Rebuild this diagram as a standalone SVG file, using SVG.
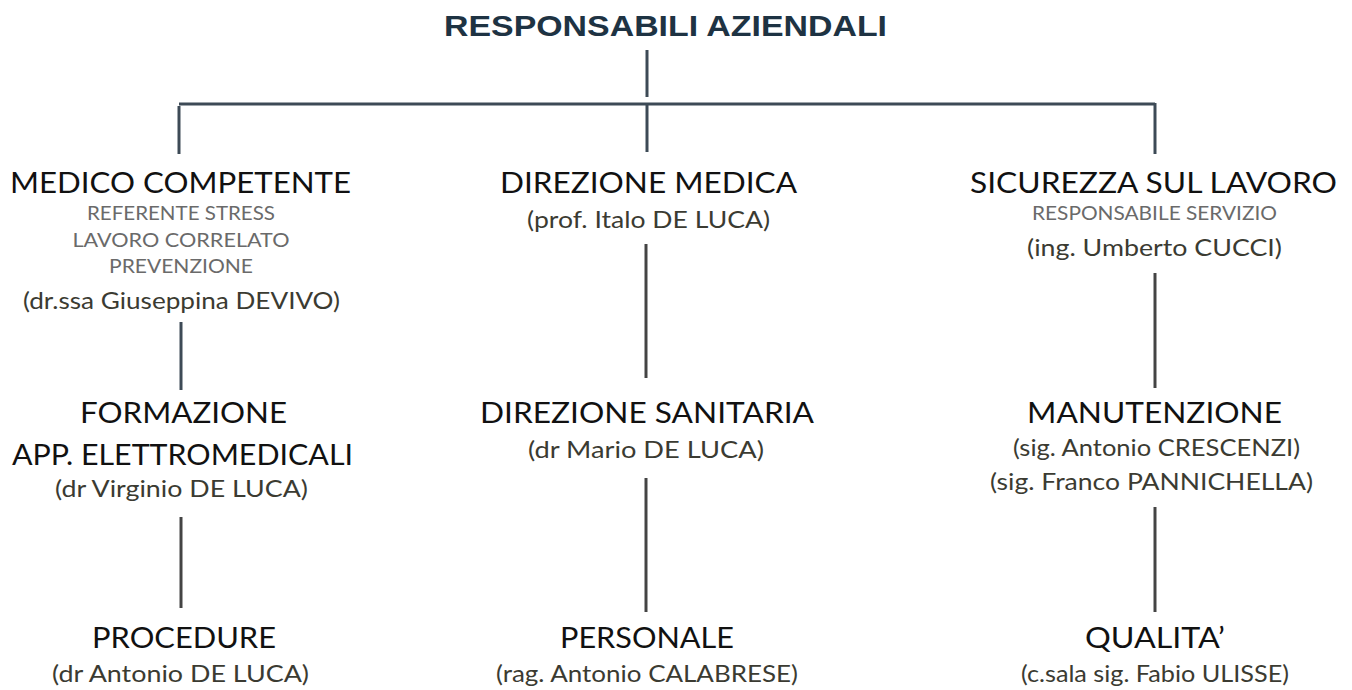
<svg xmlns="http://www.w3.org/2000/svg" width="1352" height="690" viewBox="0 0 1352 690">
<style>
.t{font-family:"Lato","Liberation Sans",sans-serif;font-size:29px;fill:#111;text-anchor:middle}
.s{font-family:"Lato","Liberation Sans",sans-serif;font-size:19px;fill:#6a6a6a;text-anchor:middle}
.n{font-family:"Lato","Liberation Sans",sans-serif;font-size:24px;fill:#3b3b32;text-anchor:middle}
.h{font-family:"Liberation Sans",Arial,sans-serif;font-size:30px;font-weight:bold;fill:#1e3343;text-anchor:middle}
.c1{stroke:#3d4a56;stroke-width:3;fill:none}
.c2{stroke:#444;stroke-width:3;fill:none}
</style>
<rect width="1352" height="690" fill="#fff"/>
<g id="connectors">
<line class="c1" x1="647" y1="50" x2="647" y2="97"/>
<line class="c1" x1="179" y1="104" x2="1155" y2="104"/>
<line class="c1" x1="179" y1="106" x2="179" y2="154"/>
<line class="c1" x1="647" y1="104" x2="647" y2="152"/>
<line class="c1" x1="1155" y1="103" x2="1155" y2="154"/>
<line class="c1" x1="181" y1="322" x2="181" y2="390"/>
<line class="c2" x1="646" y1="244" x2="646" y2="378"/>
<line class="c2" x1="1155" y1="273" x2="1155" y2="388"/>
<line class="c2" x1="181" y1="517" x2="181" y2="608"/>
<line class="c2" x1="646" y1="478" x2="646" y2="612"/>
<line class="c2" x1="1155" y1="507" x2="1155" y2="612"/>
</g>
<g id="root"><text class="h" x="665.5" y="36" textLength="443" lengthAdjust="spacingAndGlyphs">RESPONSABILI AZIENDALI</text></g>
<g id="medico">
<text class="t" x="180.5" y="193" textLength="341" lengthAdjust="spacingAndGlyphs">MEDICO COMPETENTE</text>
<text class="s" x="181" y="220" textLength="188" lengthAdjust="spacingAndGlyphs">REFERENTE STRESS</text>
<text class="s" x="181" y="247" textLength="217" lengthAdjust="spacingAndGlyphs">LAVORO CORRELATO</text>
<text class="s" x="181" y="273" textLength="144" lengthAdjust="spacingAndGlyphs">PREVENZIONE</text>
<text class="n" x="181.5" y="309" textLength="317" lengthAdjust="spacingAndGlyphs">(dr.ssa Giuseppina DEVIVO)</text>
</g>
<g id="direzione-medica">
<text class="t" x="648.5" y="193" textLength="297" lengthAdjust="spacingAndGlyphs">DIREZIONE MEDICA</text>
<text class="n" x="648.5" y="228" textLength="243" lengthAdjust="spacingAndGlyphs">(prof. Italo DE LUCA)</text>
</g>
<g id="sicurezza">
<text class="t" x="1153.5" y="193" textLength="367" lengthAdjust="spacingAndGlyphs">SICUREZZA SUL LAVORO</text>
<text class="s" x="1154.5" y="220" textLength="245" lengthAdjust="spacingAndGlyphs">RESPONSABILE SERVIZIO</text>
<text class="n" x="1154.5" y="256" textLength="255" lengthAdjust="spacingAndGlyphs">(ing. Umberto CUCCI)</text>
</g>
<g id="formazione">
<text class="t" x="183.5" y="423" textLength="207" lengthAdjust="spacingAndGlyphs">FORMAZIONE</text>
<text class="t" x="182.5" y="465" textLength="341" lengthAdjust="spacingAndGlyphs">APP. ELETTROMEDICALI</text>
<text class="n" x="181.5" y="497" textLength="253" lengthAdjust="spacingAndGlyphs">(dr Virginio DE LUCA)</text>
</g>
<g id="direzione-sanitaria">
<text class="t" x="647" y="423" textLength="334" lengthAdjust="spacingAndGlyphs">DIREZIONE SANITARIA</text>
<text class="n" x="646" y="458" textLength="236" lengthAdjust="spacingAndGlyphs">(dr Mario DE LUCA)</text>
</g>
<g id="manutenzione">
<text class="t" x="1154.5" y="423" textLength="255" lengthAdjust="spacingAndGlyphs">MANUTENZIONE</text>
<text class="n" x="1156.5" y="456" textLength="287" lengthAdjust="spacingAndGlyphs">(sig. Antonio CRESCENZI)</text>
<text class="n" x="1151.5" y="490" textLength="323" lengthAdjust="spacingAndGlyphs">(sig. Franco PANNICHELLA)</text>
</g>
<g id="procedure">
<text class="t" x="184" y="648" textLength="184" lengthAdjust="spacingAndGlyphs">PROCEDURE</text>
<text class="n" x="180.5" y="682" textLength="257" lengthAdjust="spacingAndGlyphs">(dr Antonio DE LUCA)</text>
</g>
<g id="personale">
<text class="t" x="647" y="648" textLength="174" lengthAdjust="spacingAndGlyphs">PERSONALE</text>
<text class="n" x="647" y="682" textLength="302" lengthAdjust="spacingAndGlyphs">(rag. Antonio CALABRESE)</text>
</g>
<g id="qualita">
<text class="t" x="1155" y="648" textLength="140" lengthAdjust="spacingAndGlyphs">QUALITA’</text>
<text class="n" x="1155" y="682" textLength="268" lengthAdjust="spacingAndGlyphs">(c.sala sig. Fabio ULISSE)</text>
</g>
</svg>
